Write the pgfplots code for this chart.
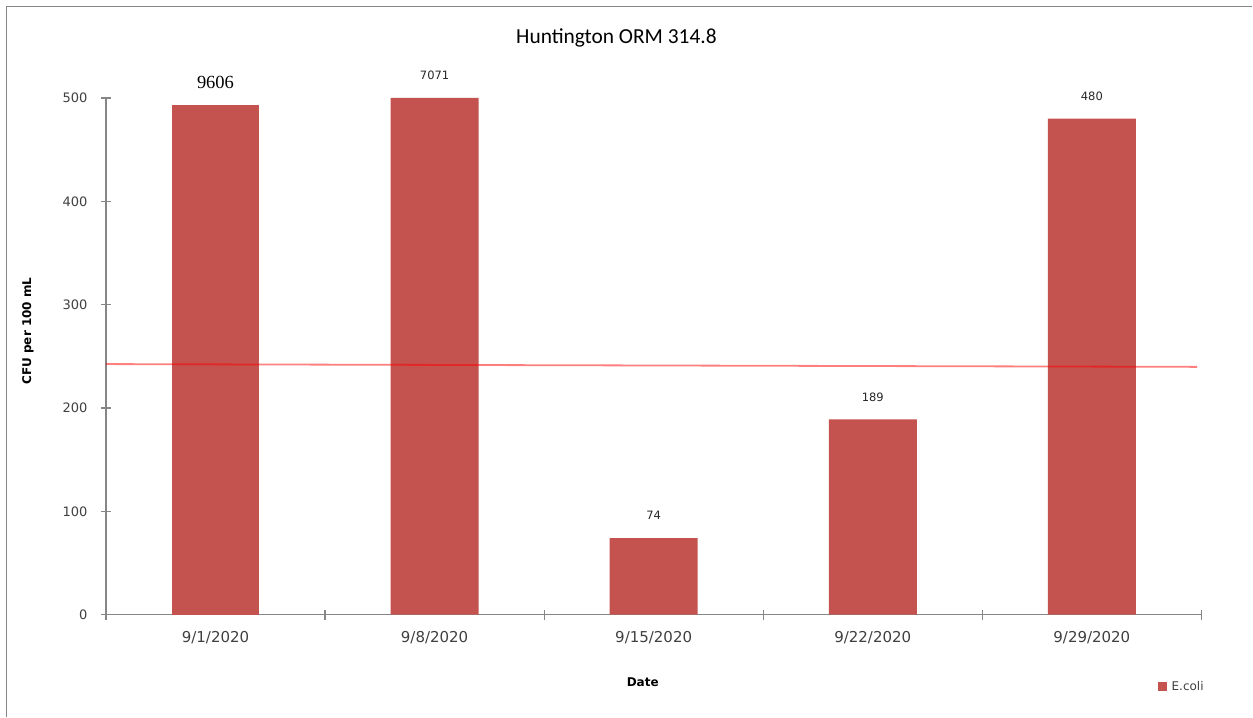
\documentclass[border=0pt]{standalone}
\usepackage{fontspec}
\usepackage{pgfplots}
\pgfplotsset{compat=1.18}
\setmainfont{DejaVu Sans}
\newfontfamily\titlefont{Carlito}
\newfontfamily\labserif{Liberation Serif}
\definecolor{barred}{HTML}{C4524E}
\definecolor{axgray}{HTML}{868686}
\definecolor{txtgray}{HTML}{404040}
\newcommand{\fs}[1]{\fontsize{#1bp}{#1bp}\selectfont}
\begin{document}
\begin{tikzpicture}
\path (0bp,0bp) rectangle (1253bp,717bp);
\draw[axgray, line width=1.2bp] (6.5bp,0bp) -- (6.5bp,710.5bp) -- (1253bp,710.5bp);
\begin{axis}[
  at={(106bp,102bp)}, anchor=south west,
  scale only axis, width=1096bp, height=517bp,
  clip=false,
  xmin=-0.5, xmax=4.5, ymin=0, ymax=500,
  axis x line*=bottom, axis y line*=left,
  axis line style={axgray, line width=1.2bp, -},
  every tick/.style={axgray, line width=1.2bp},
  tick align=center,
  major tick length=10bp, minor tick length=10bp,
  ytick={0,100,...,500},
  xtick={0,...,4},
  xticklabels={9/1/2020, 9/8/2020, 9/15/2020, 9/22/2020, 9/29/2020},
  major x tick style={draw=none},
  minor xtick={-0.5,0.5,...,4.5},
  /pgf/number format/assume math mode=true,
  yticklabel style={font=\fs{13}, text=txtgray, xshift=-10bp},
  xticklabel style={font=\fs{15}, text=txtgray, yshift=-8bp},
  title={\titlefont\fs{21.4}Huntington ORM 314.8},
  title style={at={(axis description cs:0.466,1.12)}, anchor=center, yshift=-8bp, text=black},
  xlabel={\bfseries Date},
  xlabel style={at={(axis description cs:0.49,-0.13)}, anchor=center, font=\fs{12}},
  ylabel={\bfseries CFU per 100 mL},
  ylabel style={at={(axis description cs:-0.0712,0.549)}, anchor=center, font=\fs{12}},
  legend style={at={(axis description cs:1.004,-0.139)}, anchor=east, draw=none, fill=none,
    font=\fs{12}, text=txtgray, inner sep=0pt, cells={anchor=west}},
  legend image code/.code={\fill[barred] (-2bp,-4.5bp) rectangle (7bp,4.5bp);},
  point meta=explicit symbolic,
]
\addplot[ybar, bar width=88bp, bar shift=0pt, fill=barred, draw=none,
  nodes near coords, nodes near coords style={anchor=center, yshift=22.5bp, font=\labserif\fs{18.5}, text=black}]
  coordinates {(0,493)[9606]};
\addlegendentry{\hspace{3bp}E.coli}
\addplot[ybar, bar width=88bp, bar shift=0pt, fill=barred, draw=none,
  nodes near coords, nodes near coords style={anchor=center, yshift=22.5bp, font=\fs{11.5}, text=black!85}, forget plot]
  coordinates {(1,500)[7071] (2,74)[74] (3,189)[189] (4,480)[480]};
\addplot[red, opacity=0.5, line width=1.8bp, no marks, forget plot]
  coordinates {(-0.5,242.5) (4.48,239.8)};
\end{axis}
\end{tikzpicture}
\end{document}
